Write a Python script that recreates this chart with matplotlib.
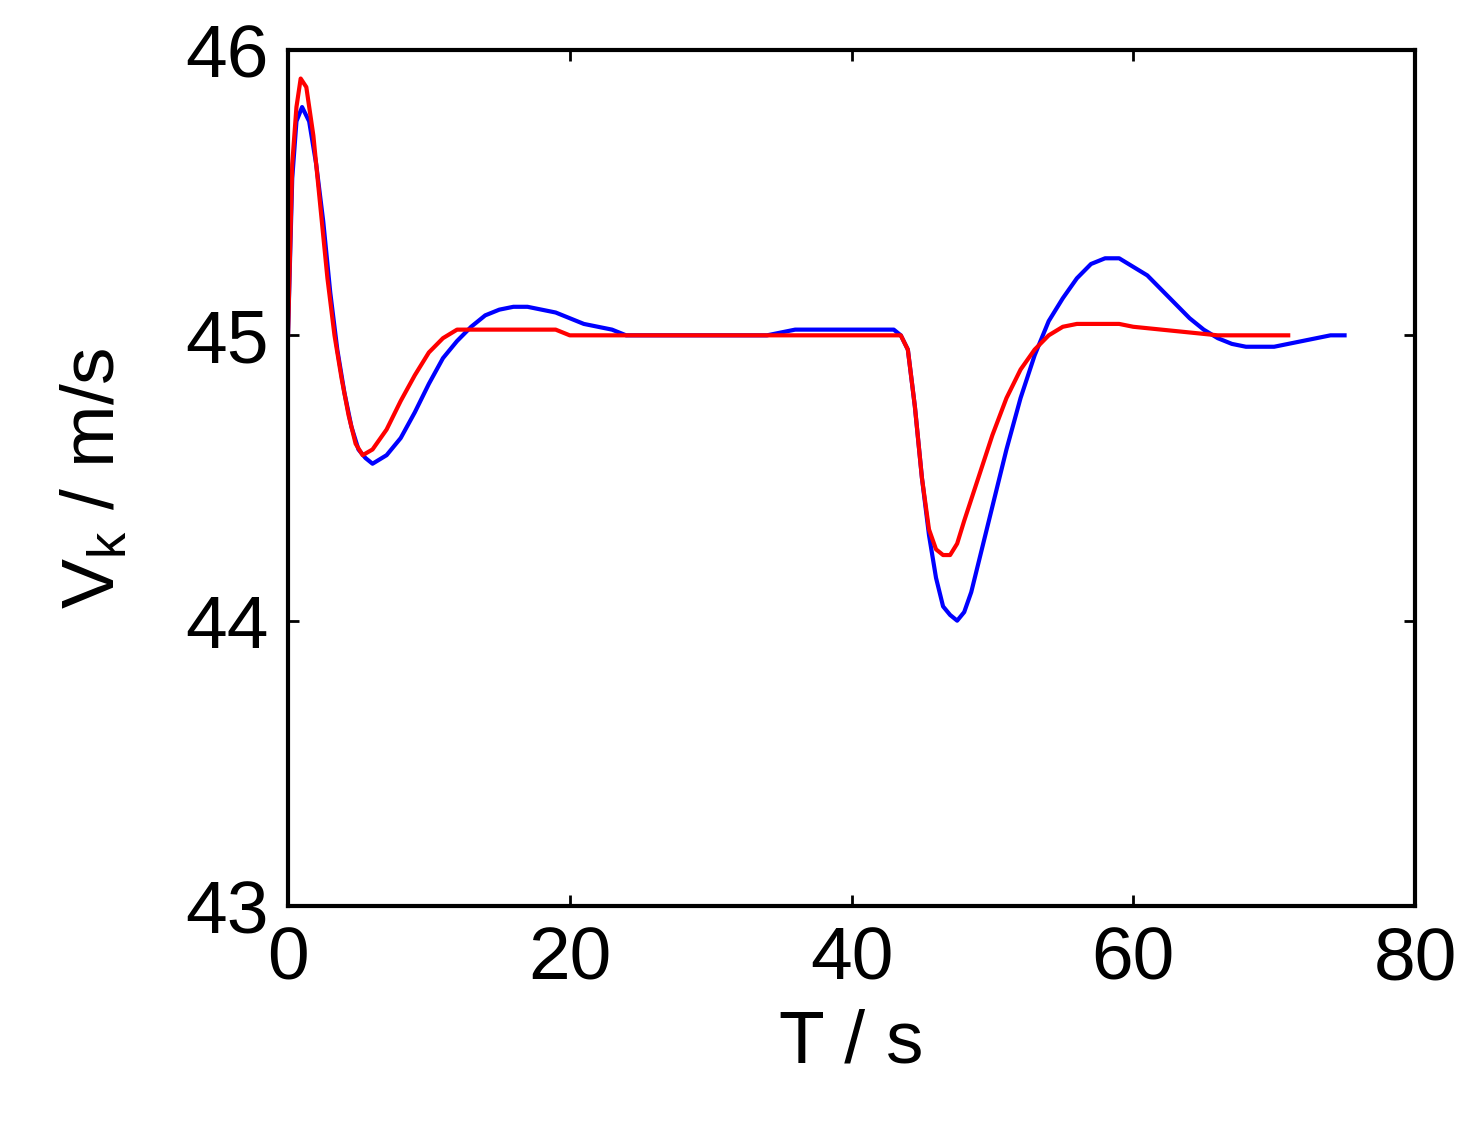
import numpy as np
import matplotlib
matplotlib.use("Agg")
import matplotlib.pyplot as plt

blue_t = [0,0.3,0.6,1.0,1.5,2,2.5,3,3.5,4,4.5,5,5.5,6,7,8,9,10,11,12,13,14,15,16,17,18,19,20,21,22,23,24,28,34,36,40,42,43,43.5,44,44.5,45,45.5,46,46.5,47,47.5,48,48.5,49,50,51,52,53,54,55,56,57,58,59,60,61,62,63,64,65,66,67,68,69,70,71,72,73,74,75]
blue_v = [45.0,45.55,45.75,45.8,45.75,45.6,45.4,45.15,44.95,44.8,44.68,44.6,44.57,44.55,44.58,44.64,44.73,44.83,44.92,44.98,45.03,45.07,45.09,45.1,45.1,45.09,45.08,45.06,45.04,45.03,45.02,45.0,45.0,45.0,45.02,45.02,45.02,45.02,45.0,44.95,44.75,44.5,44.3,44.15,44.05,44.02,44.0,44.03,44.1,44.2,44.4,44.6,44.78,44.93,45.05,45.13,45.2,45.25,45.27,45.27,45.24,45.21,45.16,45.11,45.06,45.02,44.99,44.97,44.96,44.96,44.96,44.97,44.98,44.99,45.0,45.0]

red_t = [0,0.3,0.6,0.9,1.3,1.8,2.3,2.8,3.3,3.8,4.3,4.8,5.3,6,7,8,9,10,11,12,14,19,20,30,40,43,43.5,44,44.5,45,45.5,46,46.5,47,47.5,48,49,50,51,52,53,54,55,56,57,58,59,60,62,64,66,68,70,71]
red_v = [45.0,45.6,45.8,45.9,45.87,45.7,45.45,45.2,45.0,44.85,44.72,44.62,44.58,44.6,44.67,44.77,44.86,44.94,44.99,45.02,45.02,45.02,45.0,45.0,45.0,45.0,45.0,44.95,44.75,44.5,44.32,44.25,44.23,44.23,44.27,44.35,44.5,44.65,44.78,44.88,44.95,45.0,45.03,45.04,45.04,45.04,45.04,45.03,45.02,45.01,45.0,45.0,45.0,45.0]

plt.rcParams['font.family'] = ['Liberation Sans', 'DejaVu Sans']
fig = plt.figure(figsize=(14.81, 11.31), dpi=100)
ax = fig.add_axes([288/1481, 1-906/1131, (1415-288)/1481, (906-50)/1131])
ax.plot(blue_t, blue_v, color='#0000ff', lw=3)
ax.plot(red_t, red_v, color='#ff0000', lw=3)
ax.set_xlim(0, 80)
ax.set_ylim(43, 46)
ax.set_xticks([0, 20, 40, 60, 80])
ax.set_yticks([43, 44, 45, 46])
ax.tick_params(direction='in', top=True, right=True, labelsize=54, length=8, width=2, pad=14)
for s in ax.spines.values():
    s.set_linewidth(3)
ax.set_xlabel('T / s', fontsize=54, labelpad=10)
ax.set_ylabel('V$_\\mathregular{k}$ / m/s', fontsize=54, labelpad=40)
fig.savefig('out.png', dpi=100)
